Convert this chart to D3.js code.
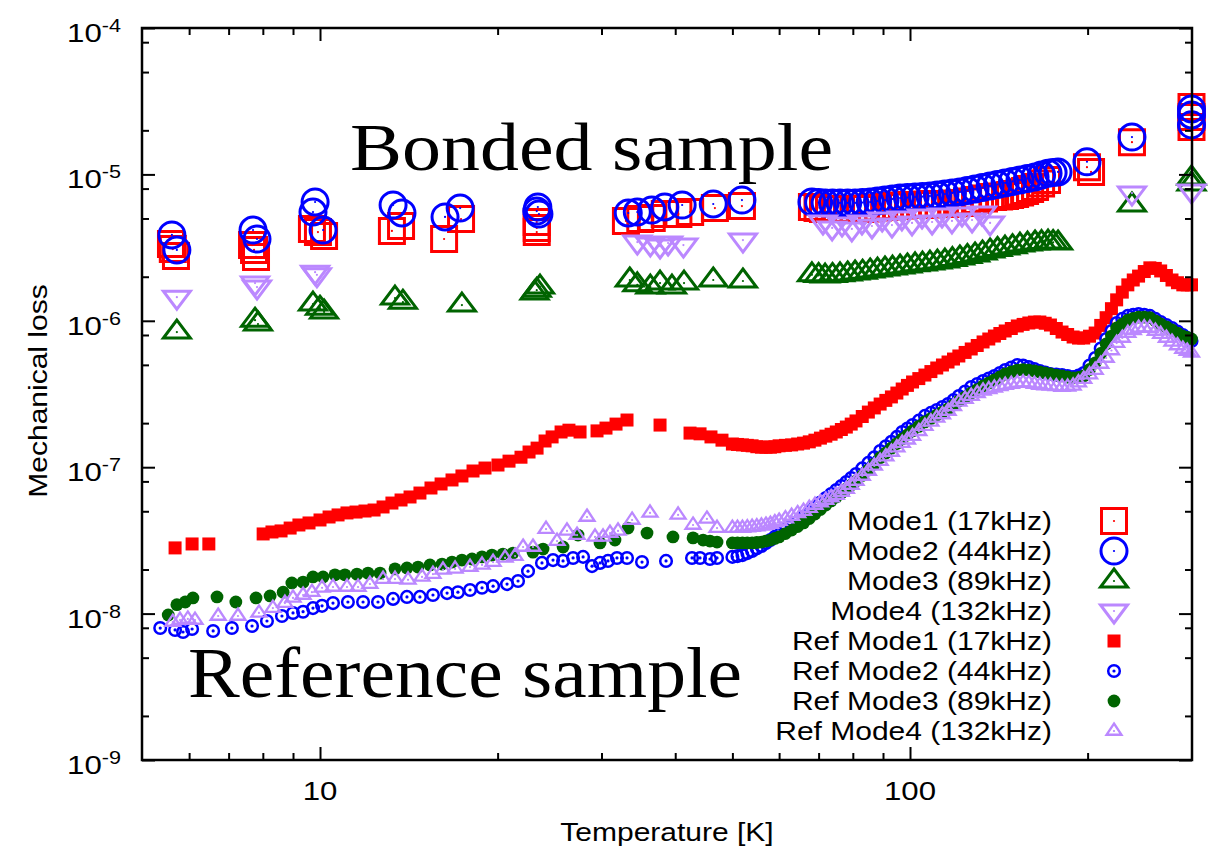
<!DOCTYPE html>
<html>
<head>
<meta charset="utf-8">
<script src="https://cdn.jsdelivr.net/npm/d3@7"></script>
<style>
  body { margin: 0; background: #ffffff; }
  svg { display: block; }
</style>
</head>
<body>
<svg id="chart" width="1225" height="852"></svg>
<script>
// ---------------------------------------------------------------------------
// Mechanical loss vs. temperature: bonded sample and reference sample,
// four resonant modes each.
// ---------------------------------------------------------------------------

// Bonded sample, Mode1 (17 kHz)
const bondedMode1T = [5.59, 5.63, 5.70, 7.67, 7.73, 7.79, 9.69, 9.92, 10.16, 13.24, 13.72, 16.23, 17.34, 23.3, 23.3, 23.3,
  33.0, 34.9, 36.5, 38.4, 40.5, 42.4, 46.7, 51.9,
  68.2, 71.2, 74.6, 78.2, 82.3, 86.2, 90.4, 94.7, 99.2, 104.0, 109.0, 114.6, 121.5, 128.9, 138.3, 144.9, 150.7, 156.7, 162.9, 170.7,
  199.5, 202.7, 237.8, 300, 300, 300];
const bondedMode1Loss = [3.35e-6, 3.09e-6, 2.77e-6, 3.29e-6, 3.05e-6, 2.73e-6, 4.24e-6, 4.04e-6, 3.80e-6, 4.11e-6, 4.44e-6, 3.62e-6, 4.96e-6, 4.73e-6, 4.31e-6, 4.04e-6,
  4.81e-6, 4.96e-6, 5.04e-6, 5.36e-6, 5.36e-6, 5.53e-6, 5.89e-6, 6.08e-6,
  5.99e-6, 5.80e-6, 5.80e-6, 5.80e-6, 5.80e-6, 5.89e-6, 5.99e-6, 6.08e-6, 6.18e-6, 6.18e-6, 6.28e-6, 6.28e-6, 6.38e-6, 6.68e-6, 7.01e-6, 7.12e-6, 7.35e-6, 7.70e-6, 8.20e-6, 9.16e-6,
  1.12e-5, 1.04e-5, 1.66e-5, 2.89e-5, 2.47e-5, 2.11e-5];
// Mode1 readings between the sweep points above (68 K - 171 K)
const bondedMode1MidT = [69.7, 72.9, 76.4, 80.2, 84.2, 88.3, 92.5, 96.9, 101.6, 106.5, 111.8, 118.0, 125.1, 133.5, 141.6, 147.8, 153.7, 159.8, 166.8];
const bondedMode1MidLoss = [5.90e-6, 5.80e-6, 5.80e-6, 5.80e-6, 5.85e-6, 5.94e-6, 6.03e-6, 6.13e-6, 6.18e-6, 6.23e-6, 6.28e-6, 6.33e-6, 6.53e-6, 6.84e-6, 7.06e-6, 7.23e-6, 7.52e-6, 7.94e-6, 8.67e-6];

// Bonded sample, Mode2 (44 kHz)
const bondedMode2T = [5.61, 5.72, 7.70, 7.82, 9.73, 9.81, 10.12, 13.30, 13.77, 16.29, 17.28, 23.3, 23.4, 23.5,
  33.3, 34.5, 36.5, 38.4, 41.1, 46.4, 51.9,
  68.2, 71.8, 76.1, 80.7, 85.6, 90.7, 96.2, 102.0, 108.1, 114.6, 121.5, 128.9, 136.7, 144.9, 153.6, 162.9, 171.4, 178.2,
  199.5, 237.8, 300, 300, 300];
const bondedMode2Loss = [3.86e-6, 3.05e-6, 4.17e-6, 3.62e-6, 5.53e-6, 6.48e-6, 4.17e-6, 6.18e-6, 5.45e-6, 5.12e-6, 5.89e-6, 5.62e-6, 5.99e-6, 5.36e-6,
  5.45e-6, 5.53e-6, 5.71e-6, 5.99e-6, 6.18e-6, 6.28e-6, 6.68e-6,
  6.48e-6, 6.38e-6, 6.38e-6, 6.38e-6, 6.48e-6, 6.68e-6, 6.90e-6, 7.01e-6, 7.12e-6, 7.35e-6, 7.59e-6, 7.95e-6, 8.33e-6, 8.74e-6, 9.16e-6, 9.60e-6, 1.02e-5, 1.04e-5,
  1.22e-5, 1.80e-5, 2.80e-5, 2.55e-5, 2.18e-5];
const bondedMode2MidT = [70.0, 73.9, 78.4, 83.1, 88.1, 93.4, 99.0, 105.0, 111.3, 118.0, 125.1, 132.7, 140.7, 149.2, 158.2, 167.1, 174.8];
const bondedMode2MidLoss = [6.43e-6, 6.38e-6, 6.38e-6, 6.43e-6, 6.58e-6, 6.79e-6, 6.95e-6, 7.06e-6, 7.23e-6, 7.47e-6, 7.77e-6, 8.14e-6, 8.53e-6, 8.95e-6, 9.38e-6, 9.90e-6, 1.03e-5];

// Bonded sample, Mode3 (89 kHz)
const bondedMode3T = [5.72, 7.76, 7.85, 9.73, 10.0, 10.16, 13.40, 13.82, 17.40, 23.1, 23.3, 23.6,
  33.5, 34.5, 36.3, 37.7, 39.5, 41.4, 46.4, 52.1,
  68.2, 71.8, 76.1, 80.7, 85.6, 90.7, 96.2, 102.0, 108.1, 114.6, 121.5, 128.9, 136.7, 144.9, 153.6, 162.9, 171.4, 178.2,
  237.8, 300, 300];
const bondedMode3Loss = [8.38e-7, 1.01e-6, 9.51e-7, 1.30e-6, 1.22e-6, 1.15e-6, 1.43e-6, 1.34e-6, 1.28e-6, 1.55e-6, 1.62e-6, 1.70e-6,
  1.90e-6, 1.76e-6, 1.70e-6, 1.81e-6, 1.70e-6, 1.81e-6, 1.90e-6, 1.87e-6,
  2.06e-6, 2.02e-6, 2.06e-6, 2.12e-6, 2.19e-6, 2.26e-6, 2.33e-6, 2.41e-6, 2.48e-6, 2.56e-6, 2.69e-6, 2.82e-6, 3.00e-6, 3.14e-6, 3.29e-6, 3.40e-6, 3.45e-6, 3.40e-6,
  6.18e-6, 9.45e-6, 8.60e-6];
const bondedMode3MidT = [70.0, 73.9, 78.4, 83.1, 88.1, 93.4, 99.0, 105.0, 111.3, 118.0, 125.1, 132.7, 140.7, 149.2, 158.2, 167.1, 174.8];
const bondedMode3MidLoss = [2.04e-6, 2.04e-6, 2.09e-6, 2.15e-6, 2.22e-6, 2.29e-6, 2.37e-6, 2.44e-6, 2.52e-6, 2.62e-6, 2.75e-6, 2.91e-6, 3.07e-6, 3.21e-6, 3.34e-6, 3.42e-6, 3.43e-6];

// Bonded sample, Mode4 (132 kHz)
const bondedMode4T = [5.72, 7.76, 7.82, 9.81, 9.88,
  34.5, 36.3, 37.7, 38.9, 41.3, 52.1,
  71.2, 73.8, 76.7, 79.7, 82.9, 86.2, 89.7, 93.2, 96.9, 100.8, 104.8, 109.0, 113.3, 117.8, 122.5, 127.4, 132.4, 136.7,
  237.8, 300];
const bondedMode4Loss = [1.45e-6, 1.81e-6, 1.70e-6, 2.15e-6, 2.06e-6,
  3.45e-6, 3.35e-6, 3.24e-6, 3.40e-6, 3.29e-6, 3.56e-6,
  4.73e-6, 4.31e-6, 4.58e-6, 4.24e-6, 4.73e-6, 4.44e-6, 4.96e-6, 4.51e-6, 5.04e-6, 4.66e-6, 5.20e-6, 4.73e-6, 5.28e-6, 4.81e-6, 5.36e-6, 4.88e-6, 5.45e-6, 4.66e-6,
  7.46e-6, 7.70e-6];

// Reference sample, low-temperature points (below 50 K)
const refMode1LowT = [5.68, 6.07, 6.48, 8.01, 8.29, 8.59, 8.90, 9.21, 9.58, 10.0, 10.36, 10.73, 11.11, 11.51, 11.92, 12.35, 12.79, 13.24, 13.72, 14.21,
  14.77, 15.42, 16.04, 16.74, 17.40, 18.17, 19.04, 20.03, 20.91, 21.91, 22.61, 23.33, 24.07, 24.74, 25.62, 26.42, 27.59, 29.48, 30.53, 31.75,
  33.14, 37.70, 42.38, 44.07, 45.99, 48.01];
const refMode1LowLoss = [2.81e-8, 2.99e-8, 2.99e-8, 3.50e-8, 3.61e-8, 3.67e-8, 3.84e-8, 4.03e-8, 4.16e-8, 4.36e-8, 4.57e-8, 4.72e-8, 4.87e-8, 4.94e-8, 5.02e-8, 5.10e-8, 5.35e-8, 5.69e-8, 5.97e-8, 6.26e-8,
  6.66e-8, 7.21e-8, 7.68e-8, 8.18e-8, 8.71e-8, 9.42e-8, 9.87e-8, 1.035e-7, 1.10e-7, 1.17e-7, 1.27e-7, 1.35e-7, 1.51e-7, 1.61e-7, 1.74e-7, 1.79e-7, 1.74e-7, 1.77e-7, 1.85e-7, 1.97e-7,
  2.10e-7, 1.94e-7, 1.71e-7, 1.69e-7, 1.61e-7, 1.53e-7];

const refMode2LowT = [5.36, 5.68, 5.86, 6.07, 6.59, 7.09, 7.67, 8.13, 8.62, 9.00, 9.36, 9.73, 10.08, 10.52, 11.15, 11.83, 12.54, 13.30, 14.04, 14.77,
  15.54, 16.42, 17.13, 17.96, 18.82, 19.65, 20.75, 21.66, 22.52, 23.78, 24.83, 25.82, 26.85, 27.92, 28.91, 29.83, 30.77, 31.87, 33.14, 35.14,
  38.59, 42.71, 44.07, 45.81, 47.09];
const refMode2LowLoss = [7.97e-9, 7.73e-9, 7.49e-9, 7.85e-9, 7.61e-9, 7.97e-9, 8.23e-9, 8.90e-9, 9.63e-9, 1.01e-8, 1.03e-8, 1.09e-8, 1.13e-8, 1.18e-8, 1.20e-8, 1.20e-8, 1.20e-8, 1.26e-8, 1.30e-8, 1.30e-8,
  1.34e-8, 1.38e-8, 1.40e-8, 1.45e-8, 1.50e-8, 1.54e-8, 1.59e-8, 1.67e-8, 1.95e-8, 2.22e-8, 2.32e-8, 2.29e-8, 2.40e-8, 2.44e-8, 2.11e-8, 2.22e-8, 2.29e-8, 2.40e-8, 2.40e-8, 2.25e-8,
  2.29e-8, 2.40e-8, 2.40e-8, 2.36e-8, 2.40e-8];

const refMode3LowT = [5.53, 5.72, 5.91, 6.09, 6.69, 7.20, 7.79, 8.23, 8.66, 8.96, 9.36, 9.73, 10.12, 10.60, 11.02, 11.55, 12.06, 12.64, 13.40, 14.04,
  14.66, 15.36, 16.10, 16.74, 17.40, 18.10, 18.82, 19.56, 20.42, 21.24, 22.96, 23.88, 25.82, 27.37, 29.83, 31.62, 33.27, 35.83, 39.65, 42.88,
  44.60, 45.81, 47.09];
const refMode3LowLoss = [9.78e-9, 1.15e-8, 1.20e-8, 1.28e-8, 1.30e-8, 1.20e-8, 1.28e-8, 1.32e-8, 1.40e-8, 1.62e-8, 1.64e-8, 1.78e-8, 1.78e-8, 1.84e-8, 1.84e-8, 1.86e-8, 1.89e-8, 1.89e-8, 2.02e-8, 2.05e-8,
  2.08e-8, 2.15e-8, 2.18e-8, 2.25e-8, 2.32e-8, 2.36e-8, 2.44e-8, 2.51e-8, 2.55e-8, 2.59e-8, 2.63e-8, 2.76e-8, 2.85e-8, 3.44e-8, 3.04e-8, 3.18e-8, 3.84e-8, 3.55e-8, 3.34e-8, 3.29e-8,
  3.18e-8, 3.13e-8, 3.08e-8];

const refMode4LowT = [5.63, 5.79, 5.97, 6.14, 6.72, 7.26, 7.88, 8.32, 8.72, 9.00, 9.36, 9.69, 10.08, 10.52, 11.11, 11.60, 12.15, 12.79, 13.40, 14.10,
  14.89, 15.54, 16.16, 16.94, 17.96, 18.82, 19.65, 20.59, 21.41, 22.09, 22.96, 24.16, 25.22, 26.22, 27.27, 28.35, 29.25, 30.18, 31.01, 32.00,
  33.80, 36.25, 40.45, 42.88, 45.27, 47.09];
const refMode4LowLoss = [8.76e-9, 9.04e-9, 9.19e-9, 9.04e-9, 9.63e-9, 9.63e-9, 1.01e-8, 1.09e-8, 1.18e-8, 1.28e-8, 1.34e-8, 1.40e-8, 1.50e-8, 1.52e-8, 1.52e-8, 1.52e-8, 1.59e-8, 1.72e-8, 1.72e-8, 1.70e-8,
  1.78e-8, 1.86e-8, 1.99e-8, 2.02e-8, 2.08e-8, 2.15e-8, 2.25e-8, 2.40e-8, 2.47e-8, 2.85e-8, 2.85e-8, 3.78e-8, 3.13e-8, 3.67e-8, 3.44e-8, 4.57e-8, 3.34e-8, 3.34e-8, 3.55e-8, 3.67e-8,
  4.36e-8, 4.87e-8, 4.72e-8, 4.03e-8, 4.43e-8, 3.84e-8];

// Reference sample, temperature sweep 50 K - 300 K (all four modes)
const refSweepT = [50, 52, 54, 56, 58, 60, 63, 66, 69, 72, 75, 78, 81, 85, 89, 93, 97, 101, 106, 111, 116, 121, 127, 133, 139, 145,
  152, 159, 166, 173, 181, 189, 197, 206, 215, 224, 234, 244, 255, 266, 278, 290, 300];
const refMode1SweepLoss = [1.44e-7, 1.42e-7, 1.40e-7, 1.37e-7, 1.37e-7, 1.40e-7, 1.42e-7, 1.46e-7, 1.53e-7, 1.63e-7, 1.74e-7, 1.88e-7, 2.07e-7,
  2.38e-7, 2.70e-7, 3.02e-7, 3.42e-7, 3.82e-7, 4.26e-7, 4.76e-7, 5.23e-7, 5.75e-7, 6.42e-7, 7.17e-7, 7.87e-7, 8.52e-7,
  9.22e-7, 9.66e-7, 9.81e-7, 9.36e-7, 8.38e-7, 7.75e-7, 7.63e-7, 8.25e-7, 1.05e-6, 1.39e-6, 1.76e-6, 2.02e-6, 2.30e-6, 2.19e-6, 1.90e-6, 1.76e-6, 1.76e-6];
const refMode2SweepLoss = [2.44e-8, 2.51e-8, 2.68e-8, 2.90e-8, 3.18e-8, 3.50e-8, 3.97e-8, 4.57e-8, 5.35e-8, 6.16e-8, 6.99e-8, 7.92e-8, 8.99e-8,
  1.07e-7, 1.29e-7, 1.49e-7, 1.74e-7, 1.94e-7, 2.24e-7, 2.46e-7, 2.70e-7, 3.06e-7, 3.53e-7, 3.88e-7, 4.20e-7, 4.61e-7,
  4.99e-7, 4.84e-7, 4.54e-7, 4.33e-7, 4.26e-7, 4.13e-7, 4.40e-7, 5.57e-7, 7.51e-7, 9.66e-7, 1.08e-6, 1.11e-6, 1.08e-6, 9.81e-7, 8.93e-7, 8.00e-7, 7.28e-7];
const refMode3SweepLoss = [3.04e-8, 3.04e-8, 3.04e-8, 3.08e-8, 3.18e-8, 3.34e-8, 3.72e-8, 4.16e-8, 4.79e-8, 5.52e-8, 6.26e-8, 7.10e-8, 8.05e-8,
  9.57e-8, 1.16e-7, 1.35e-7, 1.56e-7, 1.77e-7, 2.04e-7, 2.27e-7, 2.50e-7, 2.83e-7, 3.21e-7, 3.59e-7, 3.94e-7, 4.33e-7,
  4.61e-7, 4.61e-7, 4.47e-7, 4.33e-7, 4.20e-7, 4.07e-7, 4.20e-7, 5.15e-7, 6.94e-7, 8.93e-7, 1.01e-6, 1.06e-6, 1.05e-6, 9.51e-7, 8.65e-7, 7.87e-7, 7.51e-7];
const refMode4SweepLoss = [3.84e-8, 3.84e-8, 3.90e-8, 3.97e-8, 4.09e-8, 4.29e-8, 4.64e-8, 5.02e-8, 5.52e-8, 5.97e-8, 6.46e-8, 7.10e-8, 8.05e-8,
  9.42e-8, 1.10e-7, 1.27e-7, 1.46e-7, 1.63e-7, 1.91e-7, 2.17e-7, 2.42e-7, 2.79e-7, 3.06e-7, 3.32e-7, 3.48e-7, 3.64e-7,
  3.76e-7, 3.76e-7, 3.64e-7, 3.59e-7, 3.53e-7, 3.59e-7, 4.00e-7, 4.61e-7, 5.57e-7, 7.05e-7, 8.25e-7, 8.93e-7, 8.93e-7, 8.12e-7, 7.17e-7, 6.42e-7, 6.03e-7];

// Reference sample, sweep readings taken between the temperatures above
const refSweepMidT = [51, 53, 55, 57, 59, 61.5, 64.5, 67.5, 70.5, 73.5, 76.5, 79.5, 83, 87, 91, 95, 99, 103.5, 108.5, 113.5, 118.5, 124, 130, 136, 142,
  148.5, 155.5, 162.5, 169.5, 177, 185, 193, 201.5, 210.5, 219.5, 229, 239, 249.5, 260.5, 272, 284, 295];
const refMode1SweepMidLoss = [1.43e-7, 1.41e-7, 1.38e-7, 1.37e-7, 1.38e-7, 1.41e-7, 1.44e-7, 1.49e-7, 1.58e-7, 1.68e-7, 1.81e-7, 1.97e-7,
  2.22e-7, 2.54e-7, 2.86e-7, 3.21e-7, 3.62e-7, 4.03e-7, 4.50e-7, 4.99e-7, 5.48e-7, 6.08e-7, 6.78e-7, 7.51e-7, 8.19e-7,
  8.86e-7, 9.45e-7, 9.80e-7, 9.62e-7, 8.86e-7, 8.06e-7, 7.62e-7, 7.85e-7, 9.30e-7, 1.21e-6, 1.57e-6, 1.90e-6, 2.17e-6, 2.28e-6, 2.04e-6, 1.82e-6, 1.76e-6];
const refMode2SweepMidLoss = [2.47e-8, 2.59e-8, 2.79e-8, 3.04e-8, 3.34e-8, 3.73e-8, 4.26e-8, 4.94e-8, 5.74e-8, 6.56e-8, 7.44e-8, 8.44e-8,
  9.81e-8, 1.17e-7, 1.39e-7, 1.61e-7, 1.84e-7, 2.08e-7, 2.35e-7, 2.58e-7, 2.87e-7, 3.29e-7, 3.70e-7, 4.04e-7, 4.40e-7,
  4.80e-7, 4.95e-7, 4.69e-7, 4.43e-7, 4.29e-7, 4.19e-7, 4.22e-7, 4.95e-7, 6.47e-7, 8.52e-7, 1.03e-6, 1.10e-6, 1.10e-6, 1.03e-6, 9.36e-7, 8.45e-7, 7.63e-7];
const refMode3SweepMidLoss = [3.04e-8, 3.04e-8, 3.06e-8, 3.13e-8, 3.26e-8, 3.52e-8, 3.93e-8, 4.46e-8, 5.14e-8, 5.88e-8, 6.67e-8, 7.56e-8,
  8.78e-8, 1.05e-7, 1.25e-7, 1.45e-7, 1.66e-7, 1.90e-7, 2.15e-7, 2.38e-7, 2.66e-7, 3.01e-7, 3.39e-7, 3.76e-7, 4.13e-7,
  4.47e-7, 4.64e-7, 4.54e-7, 4.40e-7, 4.26e-7, 4.13e-7, 4.10e-7, 4.65e-7, 5.98e-7, 7.87e-7, 9.50e-7, 1.04e-6, 1.06e-6, 1.00e-6, 9.07e-7, 8.25e-7, 7.69e-7];
const refMode4SweepMidLoss = [3.84e-8, 3.87e-8, 3.93e-8, 4.03e-8, 4.19e-8, 4.46e-8, 4.83e-8, 5.26e-8, 5.74e-8, 6.21e-8, 6.77e-8, 7.56e-8,
  8.71e-8, 1.02e-7, 1.18e-7, 1.36e-7, 1.54e-7, 1.76e-7, 2.04e-7, 2.29e-7, 2.60e-7, 2.92e-7, 3.19e-7, 3.40e-7, 3.56e-7,
  3.70e-7, 3.78e-7, 3.70e-7, 3.61e-7, 3.56e-7, 3.54e-7, 3.78e-7, 4.29e-7, 5.07e-7, 6.27e-7, 7.63e-7, 8.60e-7, 8.98e-7, 8.52e-7, 7.63e-7, 6.78e-7, 6.22e-7];

// Axis ticks
const xMajorTicks = [10, 100];
const xMinorTicks = [6, 7, 8, 9, 20, 30, 40, 50, 60, 70, 80, 90, 200];
const yMajorTicks = [1e-9, 1e-8, 1e-7, 1e-6, 1e-5, 1e-4];
const yMinorTicks = [1e-9, 1e-8, 1e-7, 1e-6, 1e-5].flatMap(d => [2, 5, 8].map(m => m * d));

// Legend labels
const legendLabels = ["Mode1 (17kHz)", "Mode2 (44kHz)", "Mode3 (89kHz)", "Mode4 (132kHz)",
  "Ref Mode1 (17kHz)", "Ref Mode2 (44kHz)", "Ref Mode3 (89kHz)", "Ref Mode4 (132kHz)"];

// ---------------------------------------------------------------------------
const RED = "#ff0000", BLUE = "#0000ff", GREEN = "#006400", PURPLE = "#bb88ff";
const SANS = "'Liberation Sans', Arial, Helvetica, sans-serif";
const SERIF = "'Liberation Serif', 'Times New Roman', Times, serif";

const frameLeft = 142, frameRight = 1192, frameTop = 28, frameBottom = 760;
const x = d3.scaleLog().domain([5, 300]).range([142.4, 1191.5]);
const y = d3.scaleLog().domain([1e-9, 1e-4]).range([frameBottom, frameTop]);

const svg = d3.select("#chart");

// Point symbols (data point at the symbol's centre / centroid)
const symbols = {
  openSquare: { shape: "path", d: "M-12.5,-12.5H12.5V12.5H-12.5Z", stroke: 3, dot: 1.1 },
  openCircle: { shape: "circle", r: 13, stroke: 3, dot: 1.1 },
  openUp:     { shape: "path", d: "M0,-12L13.5,6H-13.5Z", stroke: 3, dot: 1.1 },
  openDown:   { shape: "path", d: "M0,12L13.5,-6H-13.5Z", stroke: 3, dot: 1.1 },
  solidSquare:{ shape: "path", d: "M-6.5,-6.5H6.5V6.5H-6.5Z", solid: true },
  ringDot:    { shape: "circle", r: 5.8, stroke: 2.5, dot: 1.6 },
  solidDisc:  { shape: "circle", r: 6.4, solid: true },
  smallUp:    { shape: "path", d: "M0,-7.5L7.5,3.75H-7.5Z", stroke: 2.3, dot: 1.1 }
};

function addSymbol(g, sym, color) {
  const el = sym.shape === "circle" ? g.append("circle").attr("r", sym.r) : g.append("path").attr("d", sym.d);
  if (sym.solid) {
    el.attr("fill", color).attr("stroke", "none");
  } else {
    el.attr("fill", "none").attr("stroke", color).attr("stroke-width", sym.stroke);
  }
  if (sym.dot) g.append("circle").attr("r", sym.dot).attr("fill", color);
}

const series = [
  { T: [...bondedMode1T, ...bondedMode1MidT], loss: [...bondedMode1Loss, ...bondedMode1MidLoss], color: RED, symbol: "openSquare" },
  { T: [...bondedMode2T, ...bondedMode2MidT], loss: [...bondedMode2Loss, ...bondedMode2MidLoss], color: BLUE, symbol: "openCircle" },
  { T: [...bondedMode3T, ...bondedMode3MidT], loss: [...bondedMode3Loss, ...bondedMode3MidLoss], color: GREEN, symbol: "openUp" },
  { T: bondedMode4T, loss: bondedMode4Loss, color: PURPLE, symbol: "openDown" },
  { T: [...refMode1LowT, ...refSweepT, ...refSweepMidT], loss: [...refMode1LowLoss, ...refMode1SweepLoss, ...refMode1SweepMidLoss], color: RED, symbol: "solidSquare" },
  { T: [...refMode2LowT, ...refSweepT, ...refSweepMidT], loss: [...refMode2LowLoss, ...refMode2SweepLoss, ...refMode2SweepMidLoss], color: BLUE, symbol: "ringDot" },
  { T: [...refMode3LowT, ...refSweepT, ...refSweepMidT], loss: [...refMode3LowLoss, ...refMode3SweepLoss, ...refMode3SweepMidLoss], color: GREEN, symbol: "solidDisc" },
  { T: [...refMode4LowT, ...refSweepT, ...refSweepMidT], loss: [...refMode4LowLoss, ...refMode4SweepLoss, ...refMode4SweepMidLoss], color: PURPLE, symbol: "smallUp" }
];
series.forEach((s, i) => { s.label = legendLabels[i]; });

// Data points
const dataLayer = svg.append("g").attr("class", "data");
series.forEach(s => {
  dataLayer.append("g")
    .selectAll("g")
    .data(d3.zip(s.T, s.loss))
    .join("g")
    .attr("transform", d => `translate(${x(d[0])},${y(d[1])})`)
    .each(function () { addSymbol(d3.select(this), symbols[s.symbol], s.color); });
});

// Panel annotations
svg.append("text")
  .attr("x", 350).attr("y", 170)
  .attr("font-family", SERIF).attr("font-size", 68)
  .attr("textLength", 483).attr("lengthAdjust", "spacingAndGlyphs")
  .text("Bonded sample");
svg.append("text")
  .attr("x", 188).attr("y", 697)
  .attr("font-family", SERIF).attr("font-size", 72)
  .attr("textLength", 554).attr("lengthAdjust", "spacingAndGlyphs")
  .text("Reference sample");

// Frame
svg.append("rect")
  .attr("x", frameLeft).attr("y", frameTop)
  .attr("width", frameRight - frameLeft).attr("height", frameBottom - frameTop)
  .attr("fill", "none").attr("stroke", "#000").attr("stroke-width", 2.5);

// Ticks on all four sides, pointing inward
function tickAxis(axisFn, scale, values, len, transform) {
  const g = svg.append("g")
    .attr("transform", transform)
    .call(axisFn(scale).tickValues(values).tickSize(-len).tickFormat(""));
  g.select(".domain").remove();
  g.selectAll(".tick line").attr("stroke", "#000").attr("stroke-width", 2);
}
tickAxis(d3.axisBottom, x, xMajorTicks, 13, `translate(0,${frameBottom})`);
tickAxis(d3.axisBottom, x, xMinorTicks, 7, `translate(0,${frameBottom})`);
tickAxis(d3.axisTop, x, xMajorTicks, 13, `translate(0,${frameTop})`);
tickAxis(d3.axisTop, x, xMinorTicks, 7, `translate(0,${frameTop})`);
tickAxis(d3.axisLeft, y, yMajorTicks, 13, `translate(${frameLeft},0)`);
tickAxis(d3.axisLeft, y, yMinorTicks, 7, `translate(${frameLeft},0)`);
tickAxis(d3.axisRight, y, yMajorTicks, 13, `translate(${frameRight},0)`);
tickAxis(d3.axisRight, y, yMinorTicks, 7, `translate(${frameRight},0)`);

// X tick labels
svg.append("g").selectAll("text")
  .data(xMajorTicks)
  .join("text")
  .attr("transform", d => `translate(${x(d)},800) scale(1.2,1)`)
  .attr("text-anchor", "middle")
  .attr("font-family", SANS).attr("font-size", 26)
  .text(d => d3.format("d")(d));

// Y tick labels: 10 with exponent superscript
const yLabels = svg.append("g").selectAll("text")
  .data(yMajorTicks)
  .join("text")
  .attr("transform", d => `translate(121,${y(d) + 14}) scale(1.2,1)`)
  .attr("text-anchor", "end")
  .attr("font-family", SANS).attr("font-size", 26);
yLabels.append("tspan").text("10");
yLabels.append("tspan")
  .attr("font-size", 18).attr("dy", -10)
  .text(d => String(Math.round(Math.log10(d))));

// Axis titles
svg.append("text")
  .attr("transform", "translate(667,841) scale(1.2,1)")
  .attr("text-anchor", "middle")
  .attr("font-family", SANS).attr("font-size", 25)
  .text("Temperature [K]");
svg.append("text")
  .attr("transform", "translate(47,391) rotate(-90) scale(1.2,1)")
  .attr("text-anchor", "middle")
  .attr("font-family", SANS).attr("font-size", 25)
  .text("Mechanical loss");

// Legend
const legend = svg.append("g").attr("class", "legend");
series.forEach((s, i) => {
  legend.append("text")
    .attr("transform", `translate(1052,${530 + 30 * i}) scale(1.2,1)`)
    .attr("text-anchor", "end")
    .attr("font-family", SANS).attr("font-size", 25)
    .text(s.label);
  const g = legend.append("g").attr("transform", `translate(1114,${521 + 30 * i})`);
  addSymbol(g, symbols[s.symbol], s.color);
});
</script>
</body>
</html>
